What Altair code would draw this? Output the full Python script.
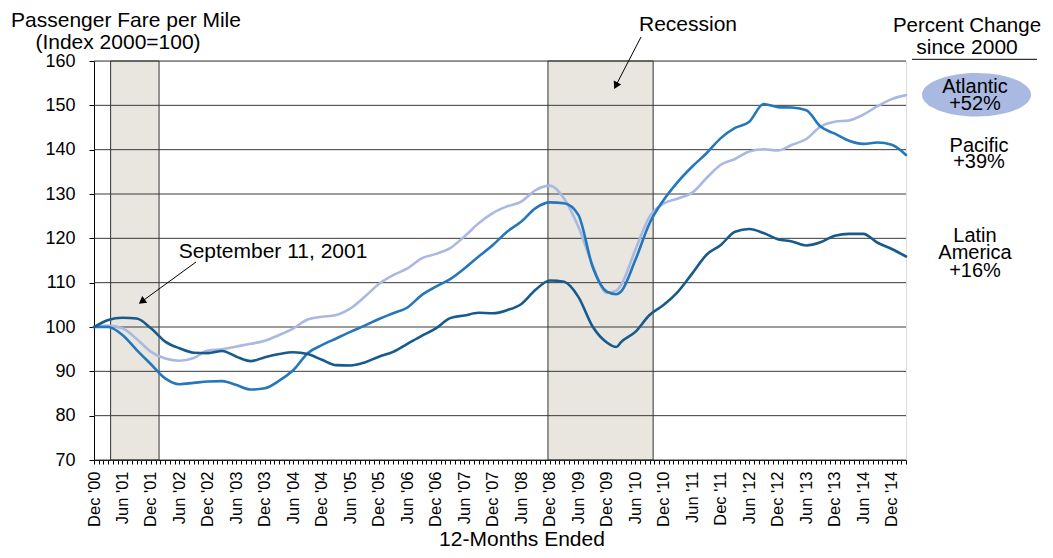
import json
import altair as alt
import pandas as pd

# ---- data (month index: 0 = Dec 2000, 12-months ended) ----
months = [0, 3, 6, 9, 12, 15, 18, 21, 24, 27, 30, 33, 36, 39, 42, 45, 48, 51, 54, 57,
          60, 63, 66, 69, 72, 75, 78, 81, 84, 87, 90, 93, 96, 99, 102, 105, 108, 110,
          111, 114, 117, 120, 123, 126, 129, 132, 135, 138, 141, 144, 147, 150, 153,
          156, 159, 162, 165, 168, 171]

atlantic = [100, 100.3, 99.7, 97.3, 94.4, 92.9, 92.4, 93.0, 94.7, 95.0, 95.6, 96.2, 96.9,
            98.2, 99.7, 101.7, 102.3, 102.7, 104.2, 106.8, 109.7, 111.7, 113.2, 115.5,
            116.5, 117.8, 120.4, 123.4, 125.7, 127.2, 128.3, 130.9, 131.9, 129.0, 122.6,
            114.0, 107.7, 108.2, 109.5, 117.4, 124.9, 127.9, 129.0, 130.3, 133.6, 136.6,
            137.9, 139.6, 140.1, 139.8, 141.1, 142.4, 145.2, 146.3, 146.6, 147.9, 149.8,
            151.4, 152.3]

pacific = [100, 100.0, 98.2, 94.8, 91.6, 88.4, 87.1, 87.4, 87.7, 87.8, 86.9, 85.9, 86.2,
           87.9, 90.3, 94.1, 95.9, 97.4, 98.9, 100.3, 101.8, 103.1, 104.4, 107.2, 109.1,
           110.8, 113.2, 115.9, 118.5, 121.5, 123.8, 126.8, 128.1, 127.9, 125.3, 113.6,
           108.0, 107.4, 108.0, 115.1, 123.4, 128.7, 132.8, 136.2, 139.2, 142.6, 144.9,
           146.3, 150.3, 149.6, 149.5, 148.9, 145.2, 143.6, 142.0, 141.3, 141.6, 141.1,
           138.8]

latin = [100, 101.6, 102.1, 101.9, 99.7, 96.7, 95.2, 94.2, 94.1, 94.6, 93.3, 92.3, 93.2,
         93.9, 94.3, 93.9, 92.6, 91.4, 91.3, 92.0, 93.3, 94.4, 96.2, 98.0, 99.7, 102.0,
         102.6, 103.2, 103.1, 103.8, 105.2, 108.4, 110.5, 110.2, 106.8, 100.1, 96.5, 95.5,
         96.6, 98.9, 102.7, 105.0, 108.0, 112.1, 116.3, 118.5, 121.5, 122.1, 121.2, 119.8,
         119.3, 118.4, 119.1, 120.6, 121.0, 121.0, 119.0, 117.6, 115.9]

series_names = ["Atlantic", "Pacific", "Latin America"]
series_colors = ["#a9b9e1", "#2577bb", "#175a8c"]

tick_labels = ["Dec '00", "Jun '01", "Dec '01", "Jun '02", "Dec '02", "Jun '03", "Dec '03",
               "Jun '04", "Dec '04", "Jun '05", "Dec '05", "Jun '06", "Dec '06", "Jun '07",
               "Dec '07", "Jun '08", "Dec '08", "Jun '09", "Dec '09", "Jun '10", "Dec '10",
               "Jun '11", "Dec '11", "Jun '12", "Dec '12", "Jun '13", "Dec '13", "Jun '14",
               "Dec '14"]

y_ticks = [70, 80, 90, 100, 110, 120, 130, 140, 150, 160]

recession_start = [3.5, 95.6]
recession_end = [13.7, 117.75]

# ---- tables ----
rows = []
for name, vals in zip(series_names, [atlantic, pacific, latin]):
    for m, v in zip(months, vals):
        rows.append({"series": name, "month": m, "value": v})
lines_df = pd.DataFrame(rows)
rec_df = pd.DataFrame({"start": recession_start, "end": recession_end})
grid_df = pd.DataFrame({"v": y_ticks})

FONT = "Liberation Sans"
W, H = 812, 399

xscale = alt.Scale(domain=[0, 171], nice=False, zero=False)
yscale = alt.Scale(domain=[70, 160], nice=False, zero=False)

label_expr = "datum.value % 6 == 0 ? " + json.dumps(tick_labels) + "[datum.value / 6] : ''"

x_axis = alt.Axis(values=list(range(0, 172)), labelExpr=label_expr, labelAngle=270,
                  labelFontSize=16.5, labelFont=FONT, labelColor="black",
                  labelOverlap=False, labelPadding=7, tickSize=4, tickColor="black",
                  domainColor="black", grid=False, title=None, labelBound=False,
                  labelFlush=False)
y_axis = alt.Axis(values=y_ticks, labelFontSize=18, labelFont=FONT,
                  labelColor="black", tickSize=5, tickColor="black",
                  domainColor="black", grid=False, title=None, labelPadding=14,
                  labelOverlap=False)

rects = alt.Chart(rec_df).mark_rect(fill="#e9e6e0", stroke="#333333", strokeWidth=1).encode(
    x=alt.X("start:Q", scale=xscale, axis=x_axis),
    x2="end:Q",
    y=alt.Y(datum=160, scale=yscale, axis=y_axis),
    y2=alt.Y2(datum=70),
)

grid = alt.Chart(grid_df).mark_rule(color="#3a3a3a", strokeWidth=1).encode(
    y=alt.Y("v:Q", scale=yscale, axis=y_axis)
)

lines = alt.Chart(lines_df).mark_line(strokeWidth=2.6, interpolate="monotone",
                                      strokeCap="round", strokeJoin="round").encode(
    x=alt.X("month:Q", scale=xscale, axis=x_axis),
    y=alt.Y("value:Q", scale=yscale, axis=y_axis),
    color=alt.Color("series:N", scale=alt.Scale(domain=series_names, range=series_colors),
                    legend=None),
    order=alt.Order("month:Q"),
    detail="series:N",
)

one = alt.Data(values=[{}])


def txt(s, x, y, align="center", size=21):
    return alt.Chart(one).mark_text(font=FONT, fontSize=size, color="black", align=align,
                                    baseline="alphabetic").encode(
        x=alt.value(x), y=alt.value(y), text=alt.value(s))


def rule(x, y, x2, y2, w=1):
    return alt.Chart(one).mark_rule(color="black", strokeWidth=w).encode(
        x=alt.value(x), y=alt.value(y), x2=alt.value(x2), y2=alt.value(y2))


def head(x, y, ang):
    return alt.Chart(one).mark_point(shape="triangle-up", filled=True, size=70, angle=ang,
                                     color="black", opacity=1).encode(
        x=alt.value(x), y=alt.value(y))


ellipse = alt.Chart(one).mark_point(
    shape="M-1,0A1,0.4,0,1,1,1,0A1,0.4,0,1,1,-1,0Z", filled=True, size=11881,
    color="#aab9e1", opacity=1).encode(x=alt.value(882.5), y=alt.value(33.7))

LS = 20
annotations = [
    txt("Passenger Fare per Mile", 32, -34),
    txt("(Index 2000=100)", 24, -12),
    txt("Recession", 594, -30),
    rule(547, -24, 521.8, 24.7), head(521.8, 24.7, 207.4),
    txt("September 11, 2001", 179, 197),
    rule(102, 201, 47.8, 240.5), head(47.8, 240.5, 233.9),
    txt("12-Months Ended", 428, 485),
    txt("Percent Change", 873, -29, size=20.5),
    txt("since 2000", 873, -7),
    rule(818, -1.7, 943, -1.7),
    ellipse,
    txt("Atlantic", 881, 31.7, size=LS), txt("+52%", 881, 49, size=LS),
    txt("Pacific", 885, 90.7, size=LS), txt("+39%", 885, 107.3, size=LS),
    txt("Latin", 881, 180.7, size=LS), txt("America", 881, 198.3, size=LS),
    txt("+16%", 881, 215.7, size=LS),
]

chart = alt.layer(rects, grid, lines, *annotations).properties(
    width=W, height=H,
    autosize=alt.AutoSizeParams(type="none"),
    padding={"left": 86, "top": 53, "right": 139, "bottom": 90},
).configure_view(stroke=None).configure(background="white")

chart.save("out.html", embed_options={"renderer": "svg", "actions": False})
